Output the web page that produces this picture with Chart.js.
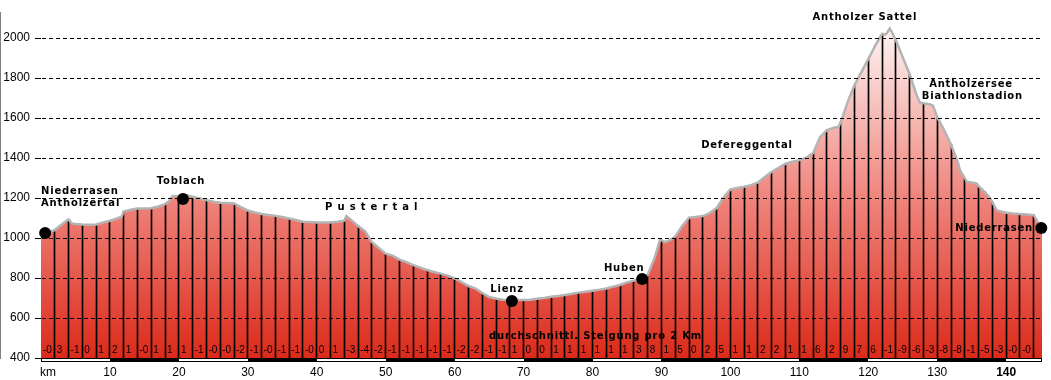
<!DOCTYPE html>
<html><head><meta charset="utf-8">
<script src="https://cdn.jsdelivr.net/npm/chart.js@4/dist/chart.umd.min.js"></script>
<style>html,body{margin:0;padding:0;background:#fff;overflow:hidden}#wrap{width:1051px;height:380px}</style>
</head><body><div id="wrap"><canvas id="c" width="1051" height="380"></canvas></div>
<script>
// ---------- data ----------
const profileKm = [0,1,2,3,3.5,4,4.5,5,6,7,8,9,10,11,11.7,12,13,14,15,16,17,18,18.6,19,20,21,22,23,24,25,26,27,28,29,30,31,32,33,34,35,36,37,38,39,40,41,42,43,44,44.3,45,46,47,48,49,50,51,52,53,54,55,56,57,58,59,60,61,62,63,64,65,66,67,68,69,70,71,72,73,74,75,76,77,78,79,80,81,82,83,84,85,86,87,88,89,89.8,90,90.5,91,92,93,94,95,96,97,98,99,100,101,102,103,104,105,106,107,108,109,110,111,112,113,114,115,115.7,116,116.2,117,118,119,120,121,122,122.4,122.7,123.1,123.4,124,125,126,127,127.5,128,129,129.4,130,131,132,133,133.3,134,134.3,135,135.7,136,137,137.7,138,138.6,139,140,141,142,143,144,144.7,145,145.2];
const profileElev = [1023,1028,1040,1068,1082,1093,1073,1070,1068,1067,1068,1078,1087,1098,1107,1133,1142,1148,1148,1149,1158,1170,1185,1208,1210,1215,1207,1198,1190,1182,1177,1175,1173,1155,1138,1128,1120,1115,1111,1105,1098,1090,1082,1080,1078,1078,1078,1082,1087,1110,1090,1060,1035,980,950,922,912,892,880,865,852,840,830,822,812,798,780,760,748,725,705,698,692,690,690,690,692,696,700,706,710,715,721,727,732,737,742,748,757,765,778,787,797,815,900,992,990,980,985,1007,1060,1102,1106,1110,1125,1150,1203,1243,1250,1257,1265,1278,1305,1332,1352,1372,1382,1390,1402,1425,1505,1540,1552,1557,1580,1598,1680,1765,1830,1895,1962,2022,2018,2025,2048,2032,1990,1905,1820,1715,1678,1675,1668,1662,1605,1540,1468,1378,1340,1300,1282,1278,1273,1260,1228,1198,1180,1140,1135,1127,1123,1120,1118,1115,1073,1062,1050];
const gradeLabels = ['-0','3','-1','0','1','2','1','-0','1','1','1','-1','-0','-0','-2','-1','-0','-1','-1','-0','0','1','-3','-4','-2','-1','-1','-1','-1','-1','-2','-2','-1','-1','1','0','0','1','1','1','1','1','1','3','8','1','5','0','2','5','1','1','2','2','1','1','6','2','9','7','6','-1','-9','-6','-3','-8','-8','-1','-5','-3','-0','-0',''];
const gradeStepKm = 2;
const markerKm = [0.6, 20.6, 68.3, 87.2, 145.1];
const markerElev = [1025, 1195, 685, 795, 1050];
const placeNames = ['Niederrasen','Antholzertal','Toblach','P u s t e r t a l','Lienz','Huben','Defereggental','Antholzer Sattel','Antholzersee','Biathlonstadion','Niederrasen'];
const gradeCaption = 'durchschnittl. Steigung pro 2 Km';
const xTickValues = [10,20,30,40,50,60,70,80,90,100,110,120,130,140];
const yTickValues = [400,600,800,1000,1200,1400,1600,1800,2000];
const xUnitLabel = 'km';
const bandStepKm = 10;
const xMin = 0, xMax = 145.2, yMin = 400, yMax = 2130;

// ---------- layout of the place labels (km / m anchors) ----------
const placeLayout = [
  {km:0, m:1235, align:'left'},
  {km:0, m:1175, align:'left'},
  {km:20.3, m:1285, align:'center'},
  {km:41.2, m:1155, align:'left'},
  {km:67.6, m:745, align:'center'},
  {km:84.6, m:850, align:'center'},
  {km:102.4, m:1465, align:'center'},
  {km:119.5, m:2105, align:'center'},
  {km:134.9, m:1770, align:'center'},
  {km:135.1, m:1710, align:'center'},
  {km:143.9, m:1050, align:'right'}
];
const captionLayout = {km:65.0, m:510, align:'left'};

// ---------- build datasets ----------
const profilePts = profileKm.map((k,i)=>({x:k, y:profileElev[i]}));
const barPts = profileKm.map((k,i)=>({x:k, y:profileElev[i]}))
  .filter(p => Number.isInteger(p.x) && p.x % gradeStepKm === 0 && p.x > 0);
const markerPts = markerKm.map((k,i)=>({x:k, y:markerElev[i]}));

const fillGradient = (context) => {
  const {ctx, chartArea} = context.chart;
  if (!chartArea) return '#e8604f';
  const g = ctx.createLinearGradient(0, chartArea.top, 0, chartArea.bottom);
  g.addColorStop(0, '#ffffff');
  g.addColorStop(0.5, '#f08c84');
  g.addColorStop(1, '#dc2a1a');
  return g;
};

const snapBars = {
  id:'snapBars',
  afterDatasetsUpdate(chart){
    chart.data.datasets.forEach((ds, i) => {
      if (ds.type !== 'bar') return;
      chart.getDatasetMeta(i).data.forEach(el => { el.x = Math.floor(el.x) + 0.5; });
    });
  }
};

const overlay = {
  id:'overlay',
  afterDraw(chart){
    const {ctx, chartArea:a, scales:{x, y}} = chart;
    ctx.save();
    // bottom band
    const bt = a.bottom, bh = 4;
    ctx.fillStyle = '#fff';
    ctx.fillRect(a.left, bt, a.right - a.left, bh);
    ctx.fillStyle = '#000';
    for (let k = bandStepKm; k < xMax; k += 2*bandStepKm) {
      const x0 = x.getPixelForValue(k), x1 = x.getPixelForValue(Math.min(k + bandStepKm, xMax));
      ctx.fillRect(Math.round(x0), bt, Math.round(x1) - Math.round(x0), bh);
    }
    ctx.strokeStyle = '#000'; ctx.lineWidth = 1;
    ctx.strokeRect(Math.round(a.left)+0.5, bt+0.5, Math.round(a.right)-Math.round(a.left)-1, bh-1);

    // gradient numbers
    ctx.font = '10px "Liberation Sans", Arial, sans-serif';
    ctx.textBaseline = 'middle'; ctx.textAlign = 'left';
    gradeLabels.forEach((t, i) => {
      if (!t) return;
      ctx.fillText(t, x.getPixelForValue(i*gradeStepKm) + 2, a.bottom - 7.5);
    });

    // x unit label
    ctx.font = '12px "Liberation Sans", Arial, sans-serif';
    ctx.fillText(xUnitLabel, a.left - 1, 373);

    // place labels
    ctx.font = 'bold 10px "DejaVu Sans", Verdana, sans-serif';
    ctx.letterSpacing = '0.8px';
    placeNames.forEach((t, i) => {
      const L = placeLayout[i];
      ctx.textAlign = L.align;
      ctx.fillText(t, x.getPixelForValue(L.km), y.getPixelForValue(L.m));
    });
    ctx.textAlign = captionLayout.align;
    ctx.fillText(gradeCaption, x.getPixelForValue(captionLayout.km), y.getPixelForValue(captionLayout.m));
    ctx.restore();
  }
};

new Chart(document.getElementById('c'), {
  type: 'line',
  data: {
    datasets: [
      {type:'scatter', data: markerPts, pointRadius:6, pointHoverRadius:6, pointBackgroundColor:'#000', pointBorderColor:'#000', pointBorderWidth:0, showLine:false, clip:false, order:0},
      {type:'line', data: profilePts, borderColor:'#b4b4b4', borderWidth:2.5, fill:'start', backgroundColor: fillGradient, pointRadius:0, tension:0, order:1},
      {type:'bar', data: barPts, backgroundColor:'#000', barThickness:1, order:2}
    ]
  },
  options: {
    responsive:false, animation:false, devicePixelRatio:1,
    layout:{padding:{top:12, right:9, left:0, bottom:0}},
    plugins:{legend:{display:false}, tooltip:{enabled:false}, filler:{drawTime:'beforeDatasetsDraw'}},
    events: [],
    scales: {
      x: {
        type:'linear', min:xMin, max:xMax, offset:false,
        afterBuildTicks: s => { s.ticks = xTickValues.map(v => ({value:v})); },
        afterFit: s => { s.height = 22; },
        grid:{display:false, drawTicks:false, offset:false},
        border:{display:false},
        ticks:{
          padding:7, maxRotation:0, autoSkip:false, color:'#000',
          font: c => ({family:'"Liberation Sans", Arial, sans-serif', size:12, weight: (c.tick && c.tick.value === 140) ? 'bold' : 'normal'}),
          callback: v => String(v)
        }
      },
      y: {
        type:'linear', min:yMin, max:yMax,
        afterBuildTicks: s => { s.ticks = yTickValues.map(v => ({value:v})); },
        afterFit: s => { s.width = 41; },
        grid:{
          z:1, lineWidth:1, tickLength:6, tickColor:'#000', tickBorderDash:[],
          color: c => (c.tick && c.tick.value === yMin) ? 'rgba(0,0,0,0)' : '#000'
        },
        border:{display:true, color:'#000', width:1, dash:[4,3]},
        ticks:{padding:5, color:'#000', font:{family:'"Liberation Sans", Arial, sans-serif', size:12}, callback: v => String(v)}
      }
    }
  },
  plugins:[snapBars, overlay]
});
</script>
</body></html>
